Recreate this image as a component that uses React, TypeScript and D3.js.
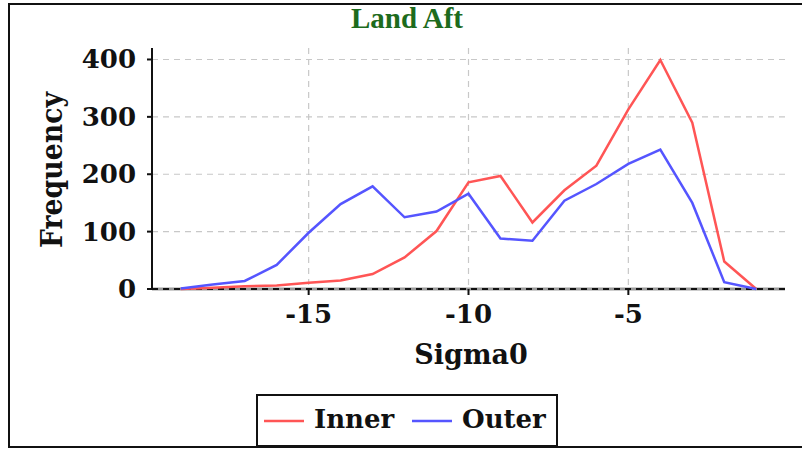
import * as d3 from 'd3';
import React from 'react';

const sigma0 = [-19, -18, -17, -16, -15, -14, -13, -12, -11, -10, -9, -8, -7, -6, -5, -4, -3, -2, -1];
const innerFreq = [0, 2, 5, 6, 11, 15, 26, 55, 101, 186, 197, 116, 172, 215, 313, 399, 290, 48, 0];
const outerFreq = [1, 8, 14, 42, 98, 148, 179, 125, 135, 166, 88, 84, 154, 183, 218, 243, 150, 12, 0];
const xTicks = [-15, -10, -5];
const yTicks = [0, 100, 200, 300, 400];

const TITLE = "Land Aft";
const X_LABEL = "Sigma0";
const Y_LABEL = "Frequency";
const SERIES = [
  { name: "Inner", values: innerFreq, color: "#ff5555" },
  { name: "Outer", values: outerFreq, color: "#5555ff" },
];

const W = 802;
const H = 450;
const FONT = "'DejaVu Serif', serif";

const App: React.FC = () => {
  const left = 152;
  const right = 785;
  const top = 48;
  const bottom = 289;

  const xScale = d3.scaleLinear().domain([-19.9, -0.1]).range([left, right]);
  const yScale = d3.scaleLinear().domain([0, 420]).range([bottom, top]);

  const line = d3.line<number>()
    .x((_, i) => xScale(sigma0[i]))
    .y(v => yScale(v));

  return (
    <svg
      width={W}
      height={H}
      style={{ position: "absolute", left: 0, top: 0, background: "#fff" }}
    >
      {/* outer frame */}
      <rect x={9} y={4} width={W + 20} height={443} fill="none" stroke="#111" strokeWidth={2} />

      <text
        x={407}
        y={28}
        textAnchor="middle"
        fill="#1d6b1d"
        fontFamily="'Liberation Serif', serif"
        fontWeight="bold"
        fontSize={29}
      >
        {TITLE}
      </text>

      {/* grid */}
      {yTicks.filter(t => t > 0).map(t => (
        <line key={`gy${t}`} x1={left} x2={right} y1={yScale(t)} y2={yScale(t)}
          stroke="#c8c8c8" strokeWidth={1.2} strokeDasharray="6,5" />
      ))}
      {xTicks.map(t => (
        <line key={`gx${t}`} x1={xScale(t)} x2={xScale(t)} y1={top} y2={bottom}
          stroke="#c8c8c8" strokeWidth={1.2} strokeDasharray="6,5" />
      ))}

      {/* x axis baseline */}
      <line x1={left} x2={right} y1={bottom} y2={bottom} stroke="#999" strokeWidth={3} />
      <line x1={left} x2={right} y1={bottom} y2={bottom} stroke="#111" strokeWidth={2} strokeDasharray="6,5" />

      {/* series */}
      {SERIES.map(s => (
        <path key={s.name} d={line(s.values) ?? ""} fill="none" stroke={s.color} strokeWidth={2.5}
          strokeLinejoin="miter" />
      ))}

      {/* y axis */}
      <line x1={left} x2={left} y1={top} y2={bottom + 1} stroke="#111" strokeWidth={2} />
      {yTicks.map(t => (
        <g key={`yt${t}`}>
          <line x1={left - 5} x2={left} y1={yScale(t)} y2={yScale(t)} stroke="#111" strokeWidth={2} />
          <text x={left - 16} y={yScale(t) + 9} textAnchor="end" fontFamily={FONT}
            fontWeight="bold" fontSize={26} fill="#111">{t}</text>
        </g>
      ))}

      {/* x ticks */}
      {xTicks.map(t => (
        <g key={`xt${t}`}>
          <line x1={xScale(t)} x2={xScale(t)} y1={bottom} y2={bottom + 6} stroke="#111" strokeWidth={2} />
          <text x={xScale(t)} y={323} textAnchor="middle" fontFamily={FONT}
            fontWeight="bold" fontSize={26} fill="#111">{t}</text>
        </g>
      ))}

      <text x={471} y={364} textAnchor="middle" fontFamily={FONT} fontWeight="bold"
        fontSize={27} fill="#111">{X_LABEL}</text>
      <text transform={`translate(62,170) rotate(-90)`} textAnchor="middle" fontFamily={FONT}
        fontWeight="bold" fontSize={30} textLength={156} lengthAdjust="spacingAndGlyphs"
        fill="#111">{Y_LABEL}</text>

      {/* legend */}
      <rect x={257} y={395} width={300} height={51} fill="#fff" stroke="#111" strokeWidth={2} />
      {SERIES.map((s, i) => {
        const x0 = 264 + i * 148;
        return (
          <g key={`lg${s.name}`}>
            <line x1={x0} x2={x0 + 40} y1={421} y2={421} stroke={s.color} strokeWidth={2.5} />
            <text x={x0 + 50} y={428} fontFamily={FONT} fontWeight="bold" fontSize={26} fill="#111">
              {s.name}
            </text>
          </g>
        );
      })}
    </svg>
  );
};

export default App;
